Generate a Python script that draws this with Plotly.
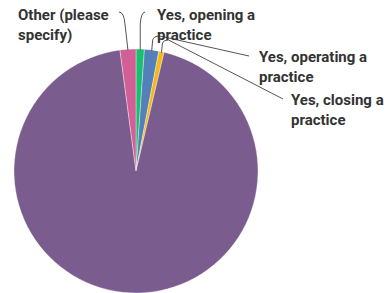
import math
import plotly.graph_objects as go

# Data (clockwise from 12 o'clock)
labels = ["Yes, opening a practice", "Yes, operating a practice",
          "Yes, closing a practice", "No", "Other (please specify)"]
values = [1.1, 1.9, 0.7, 94.2, 2.1]
colors = ["#17BF6F", "#5480B9", "#F5B81B", "#7A5C8E", "#D25F96"]
label_text = ["Yes, opening a<br>practice", "Yes, operating a<br>practice",
              "Yes, closing a<br>practice", None, "Other (please<br>specify)"]

W, H = 392, 293
CX, CY, R = 136, 171, 122

def px(x):
    return x / W

def py(y):
    return 1 - y / H

fig = go.Figure(go.Pie(
    labels=labels, values=values, sort=False, direction="clockwise",
    rotation=0, textinfo="none", hoverinfo="label+percent",
    marker=dict(colors=colors, line=dict(color="rgba(255,255,255,0.6)", width=0.6)),
    domain=dict(x=[px(CX - R), px(CX + R)], y=[py(CY + R), py(CY - R)]),
    showlegend=False,
))

# slice mid-angle attach points on the rim
total = sum(values)
attach = []
acc = 0
for v in values:
    mid = (acc + v / 2) / total * 2 * math.pi
    acc += v
    attach.append((CX + R * math.sin(mid), CY - R * math.cos(mid) + 1))

def path(points_cmds):
    s = ""
    for cmd, pts in points_cmds:
        s += cmd + " " + " ".join(f"{px(x):.5f},{py(y):.5f}" for x, y in pts) + " "
    return s.strip()

shapes = []
lc = dict(color="#555", width=1)
# Other (pink)
ax, ay = attach[4]
shapes.append(dict(type="path", xref="paper", yref="paper", line=lc,
                   path=path([("M", [(ax, ay)]), ("L", [(ax - 3, 24)]),
                              ("Q", [(ax - 4, 12), (ax - 9, 12)])])))
# Opening (green)
ax, ay = attach[0]
shapes.append(dict(type="path", xref="paper", yref="paper", line=lc,
                   path=path([("M", [(ax, ay)]), ("L", [(ax, 24)]),
                              ("Q", [(ax + 1, 12), (ax + 5, 12)])])))
# Operating (blue)
ax, ay = attach[1]
shapes.append(dict(type="path", xref="paper", yref="paper", line=lc,
                   path=path([("M", [(ax, ay)]), ("L", [(ax + 1, 40)]),
                              ("Q", [(ax + 2, 36), (ax + 8, 36)]),
                              ("L", [(249, 56)])])))
# Closing (yellow)
ax, ay = attach[2]
shapes.append(dict(type="path", xref="paper", yref="paper", line=lc,
                   path=path([("M", [(ax, ay)]), ("L", [(ax + 1, 43)]),
                              ("Q", [(ax + 2, 40), (ax + 7, 40)]),
                              ("L", [(283, 99)])])))

font = dict(family="Roboto", size=15, color="#333333")
label_pos = {4: (16, 25), 0: (155, 25), 1: (257, 67), 2: (289, 110)}
annotations = []
for i, (x, y) in label_pos.items():
    annotations.append(dict(text="<b>" + label_text[i].replace("<br>", "</b><br><b>") + "</b>",
                            x=px(x), y=py(y), xref="paper", yref="paper",
                            xanchor="left", yanchor="middle", align="left",
                            showarrow=False, font=font))

fig.update_layout(width=W, height=H, margin=dict(l=0, r=0, t=0, b=0),
                  paper_bgcolor="white", plot_bgcolor="white",
                  shapes=shapes, annotations=annotations)
fig.write_html("out.html", config={"displayModeBar": False},
               post_script="document.body.style.margin='0';")
